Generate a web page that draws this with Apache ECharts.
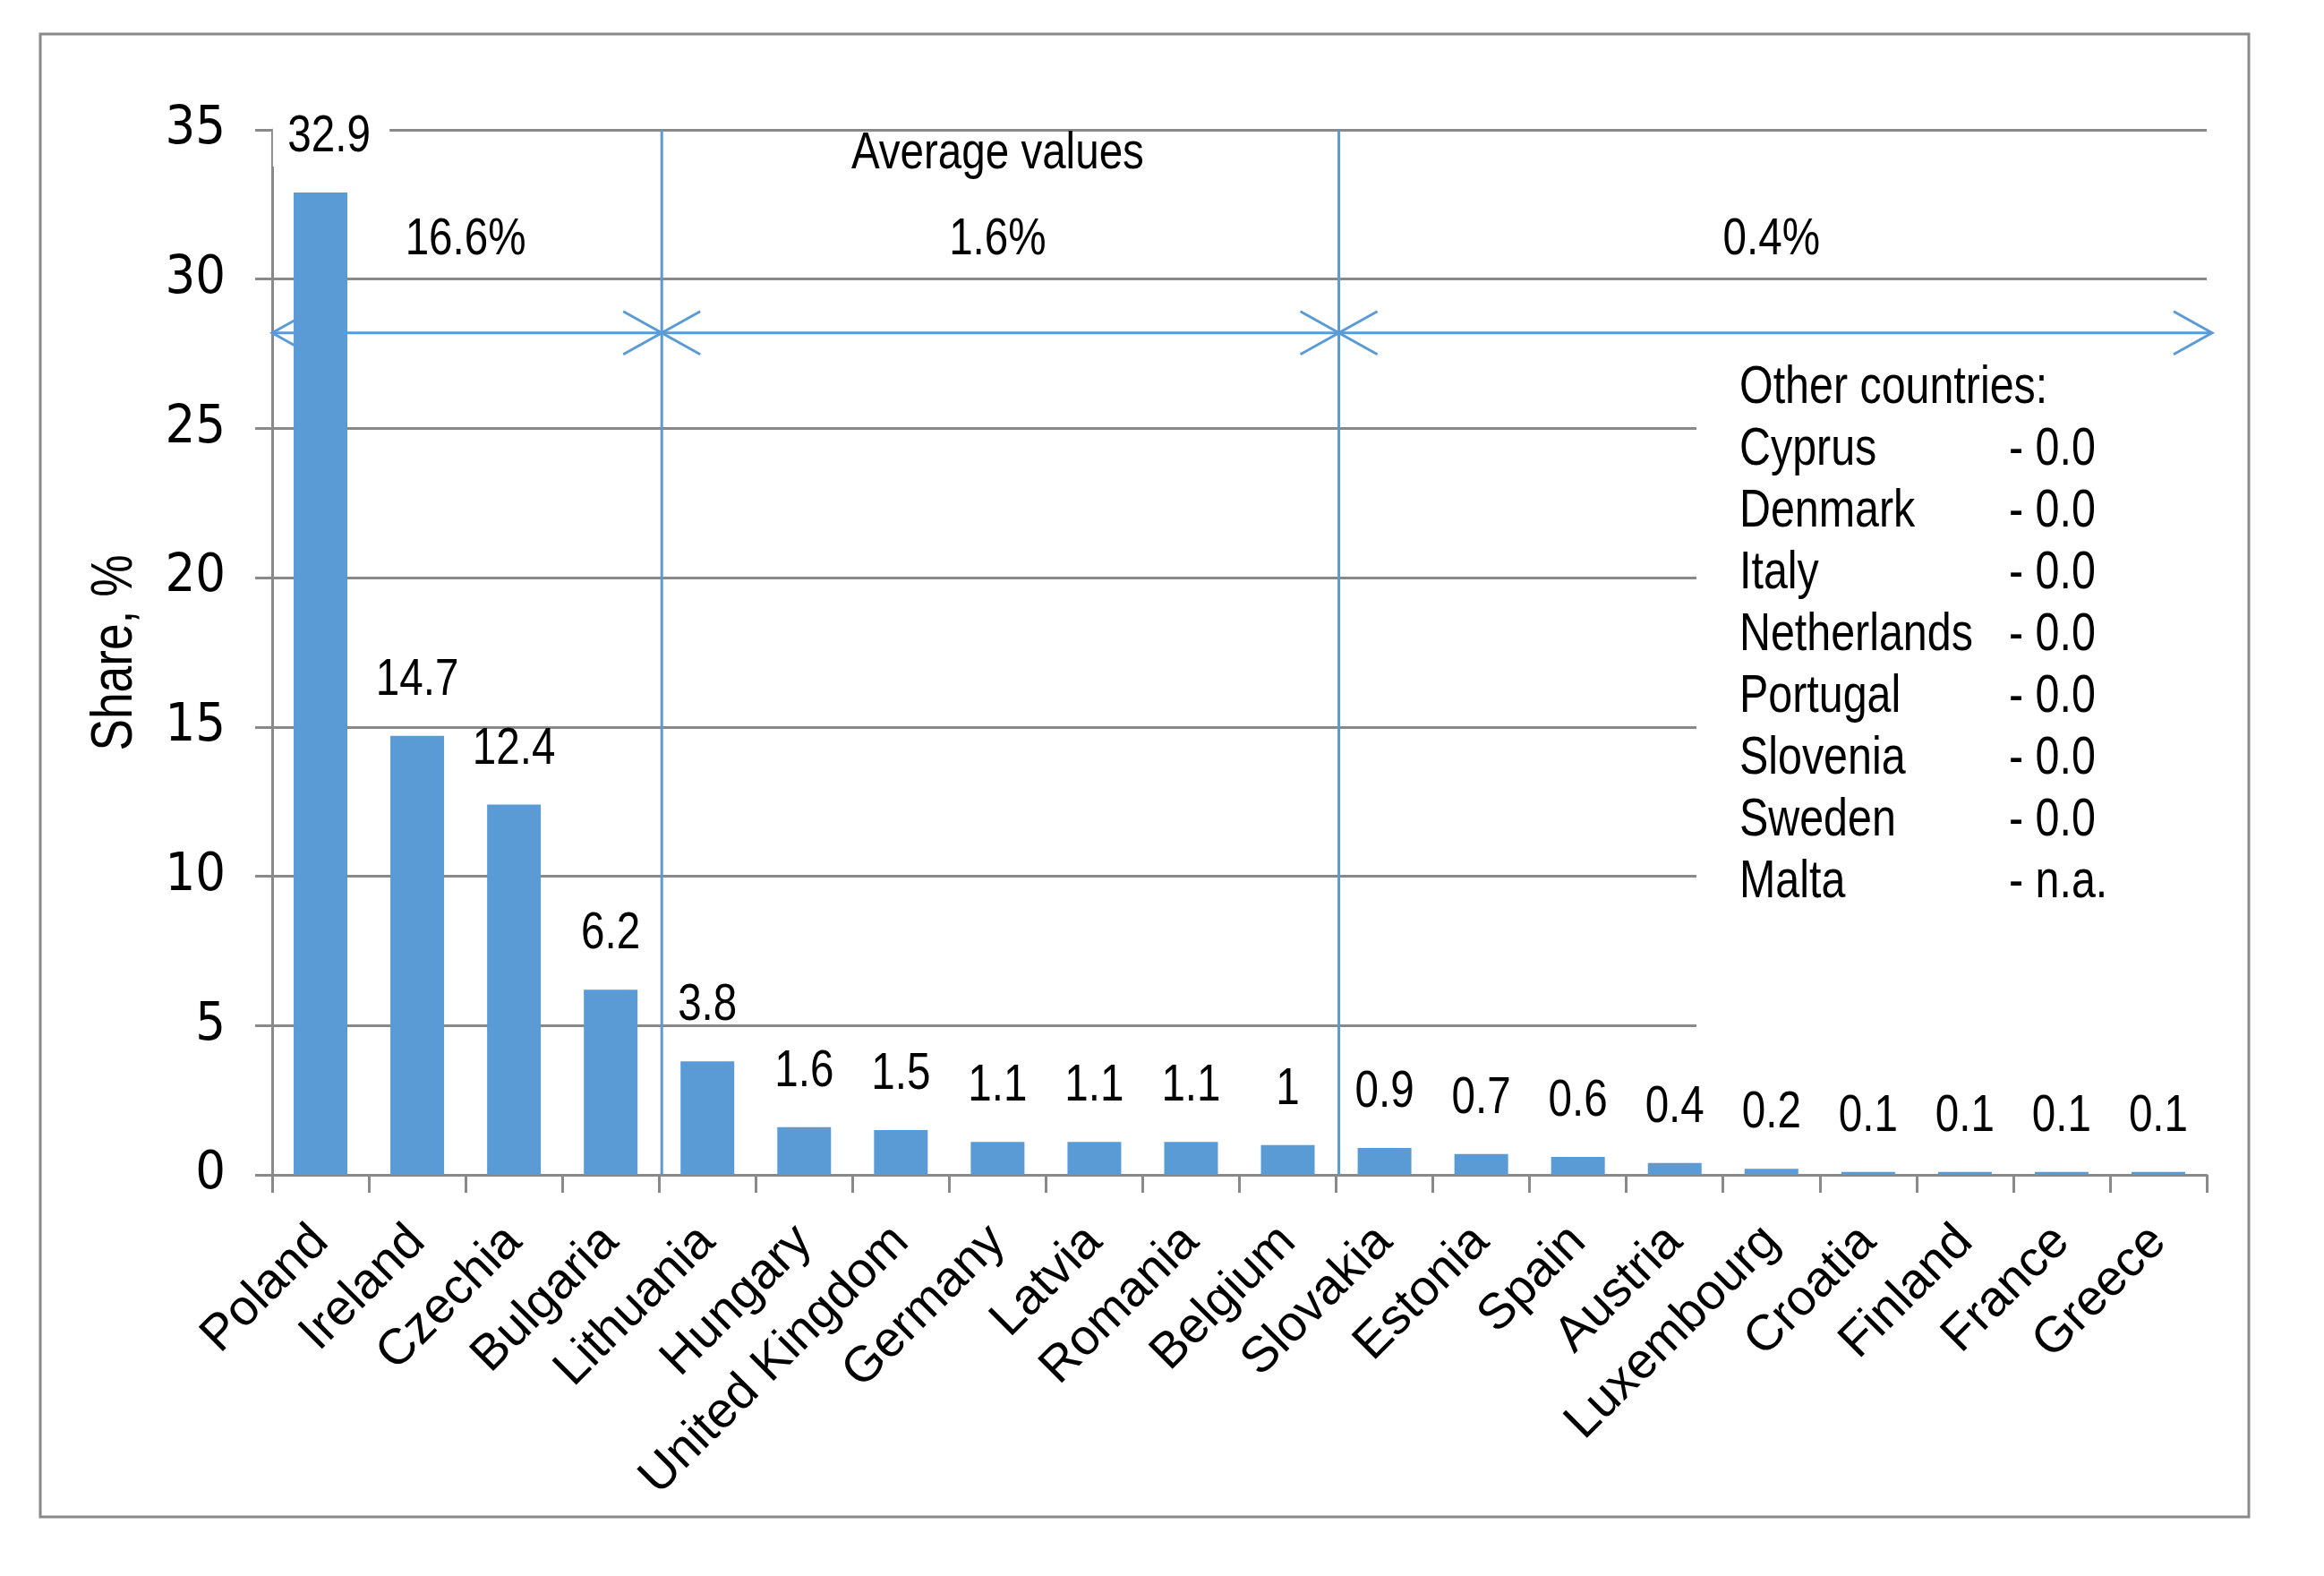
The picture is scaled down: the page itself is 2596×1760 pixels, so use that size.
<!DOCTYPE html>
<html>
<head>
<meta charset="utf-8">
<script src="https://cdn.jsdelivr.net/npm/echarts@6/dist/echarts.min.js"></script>
<style>
html,body{margin:0;padding:0;background:#fff;}
#chart{width:2596px;height:1760px;}
</style>
</head>
<body>
<div id="chart"></div>
<script>
// ---- data ----
const categories = ['Poland','Ireland','Czechia','Bulgaria','Lithuania','Hungary','United Kingdom','Germany','Latvia','Romania','Belgium','Slovakia','Estonia','Spain','Austria','Luxembourg','Croatia','Finland','France','Greece'];
const shares = [32.9,14.7,12.4,6.2,3.8,1.6,1.5,1.1,1.1,1.1,1.0,0.9,0.7,0.6,0.4,0.2,0.1,0.1,0.1,0.1];
const yMin = 0, yMax = 35, yInterval = 5;
const groupBounds = [0, 4, 11, 20];          // category boundaries of the groups
const groupAverages = ['16.6%', '1.6%', '0.4%'];
const averageTitle = 'Average values';
const arrowLevel = 28.2;                       // y value of the double arrows
const groupLabelLevel = 31.3;
const titleLevel = 34.2;
const separatorTop = 35;
const yAxisName = 'Share, %';
const otherTitle = 'Other countries:';
const otherCountries = ['Cyprus','Denmark','Italy','Netherlands','Portugal','Slovenia','Sweden','Malta'];
const otherValues = ['- 0.0','- 0.0','- 0.0','- 0.0','- 0.0','- 0.0','- 0.0','- n.a.'];

// ---- style ----
const REG = "'Liberation Sans',Arial,sans-serif";
const COND = "'DejaVu Sans Condensed','Liberation Sans',sans-serif";
const NX = 0.82;   // horizontal squeeze to imitate a narrow face
const BLUE = '#5B9BD5';
const GRAY = '#898989';

const chart = echarts.init(document.getElementById('chart'), null, {renderer: 'canvas'});

const separators = groupBounds.slice(1, -1).map(v => [v, separatorTop]);
const arrowSegs = [];
const groupTexts = [];
for (let i = 0; i < groupBounds.length - 1; i++) {
  arrowSegs.push([groupBounds[i], groupBounds[i + 1], arrowLevel]);
  groupTexts.push([(groupBounds[i] + groupBounds[i + 1]) / 2, groupLabelLevel, groupAverages[i]]);
}
groupTexts.push([(groupBounds[1] + groupBounds[2]) / 2, titleLevel, averageTitle]);

function narrowText(x, y, text, size, extra) {
  return Object.assign({
    type: 'text', x: x, y: y, scaleX: NX, z: 60, silent: true,
    style: {text: text, font: size + 'px ' + REG, fill: '#000', textVerticalAlign: 'middle'}
  }, extra || {});
}

const graphics = [
  {type: 'rect', shape: {x: 45, y: 38, width: 2467, height: 1656}, style: {fill: 'none', stroke: GRAY, lineWidth: 3}, z: 1, silent: true},
  {type: 'rect', shape: {x: 1895, y: 400, width: 575, height: 780}, style: {fill: '#fff'}, z: 50, silent: true},
  narrowText(1943, 434, otherTitle, 59),
  // y axis name, rotated
  {type: 'text', x: 129, y: 729, rotation: Math.PI / 2, scaleX: NX, z: 60, silent: true,
   style: {text: yAxisName, font: '65px ' + REG, fill: '#000', textAlign: 'center', textVerticalAlign: 'middle'}}
];
otherCountries.forEach((c, i) => {
  const y = 434 + (i + 1) * 69;
  graphics.push(narrowText(1943, y, c, 59));
  graphics.push(narrowText(2244, y, otherValues[i], 59));
});

const option = {
  animation: false,
  backgroundColor: '#fff',
  grid: {left: 304, right: 131, top: 145, bottom: 448, containLabel: false, outerBoundsMode: 'none'},
  xAxis: [
    {
      type: 'category', data: categories,
      axisLine: {lineStyle: {color: GRAY, width: 3}},
      axisTick: {show: true, interval: 0, length: 20, lineStyle: {color: GRAY, width: 3}},
      axisLabel: {interval: 0, rotate: 45, margin: 66, color: '#000', fontFamily: REG, fontSize: 56},
      splitLine: {show: false}
    },
    {type: 'value', min: 0, max: categories.length, show: false, splitLine: {show: false}}
  ],
  yAxis: {
    type: 'value', min: yMin, max: yMax, interval: yInterval,
    axisLine: {show: true, lineStyle: {color: GRAY, width: 3}},
    axisTick: {show: true, length: 19, lineStyle: {color: GRAY, width: 3}},
    axisLabel: {color: '#000', fontFamily: COND, fontSize: 59, margin: 52},
    splitLine: {show: true, lineStyle: {color: GRAY, width: 3}}
  },
  graphic: graphics,
  series: [
    {
      type: 'bar', data: shares, barWidth: 60, z: 3,
      itemStyle: {color: BLUE},
      label: {show: false}
    },
    {
      // value labels above the bars
      type: 'custom', xAxisIndex: 0, yAxisIndex: 0, z: 5, clip: false, silent: true,
      data: shares.map((v, i) => [i, v]),
      renderItem: function (params, api) {
        const i = api.value(0), v = api.value(1);
        const p = api.coord([i, v]);
        const first = params.dataIndex === 0;
        const style = {text: String(v), font: '58px ' + REG, fill: '#000', textAlign: 'center', textVerticalAlign: 'middle'};
        if (first) { style.backgroundColor = '#fff'; style.padding = [4, 26, 4, 20]; }
        return {type: 'text', x: p[0] + (first ? 12 : 0), y: p[1] - 62, scaleX: NX, style: style};
      }
    },
    {
      type: 'custom', xAxisIndex: 1, yAxisIndex: 0, z: 1, clip: false, silent: true,
      data: separators,
      renderItem: function (params, api) {
        const top = api.coord([api.value(0), api.value(1)]);
        const bot = api.coord([api.value(0), 0]);
        return {type: 'line', shape: {x1: top[0] + 3, y1: top[1], x2: bot[0] + 3, y2: bot[1]}, style: {stroke: BLUE, lineWidth: 3}};
      }
    },
    {
      type: 'custom', xAxisIndex: 1, yAxisIndex: 0, z: 1, clip: false, silent: true,
      data: arrowSegs,
      renderItem: function (params, api) {
        const p0 = api.coord([api.value(0), api.value(2)]);
        const p1 = api.coord([api.value(1), api.value(2)]);
        const a = params.dataIndex === 0 ? 0 : 3;
        const b = params.dataIndex === arrowSegs.length - 1 ? 6 : 3;
        const x0 = p0[0] + a, x1 = p1[0] + b, y = p0[1];
        const L = 43, W = 24;
        const st = {stroke: BLUE, lineWidth: 3, fill: 'none'};
        return {type: 'group', children: [
          {type: 'line', shape: {x1: x0, y1: y, x2: x1, y2: y}, style: st},
          {type: 'polyline', shape: {points: [[x0 + L, y - W], [x0, y], [x0 + L, y + W]]}, style: st},
          {type: 'polyline', shape: {points: [[x1 - L, y - W], [x1, y], [x1 - L, y + W]]}, style: st}
        ]};
      }
    },
    {
      type: 'custom', xAxisIndex: 1, yAxisIndex: 0, z: 4, clip: false, silent: true,
      data: groupTexts,
      renderItem: function (params, api) {
        const p = api.coord([api.value(0), api.value(1)]);
        return {type: 'text', x: p[0], y: p[1], scaleX: NX, style: {text: groupTexts[params.dataIndex][2], textAlign: 'center', textVerticalAlign: 'middle', font: '58px ' + REG, fill: '#000'}};
      }
    }
  ]
};
chart.setOption(option);
</script>
</body>
</html>
